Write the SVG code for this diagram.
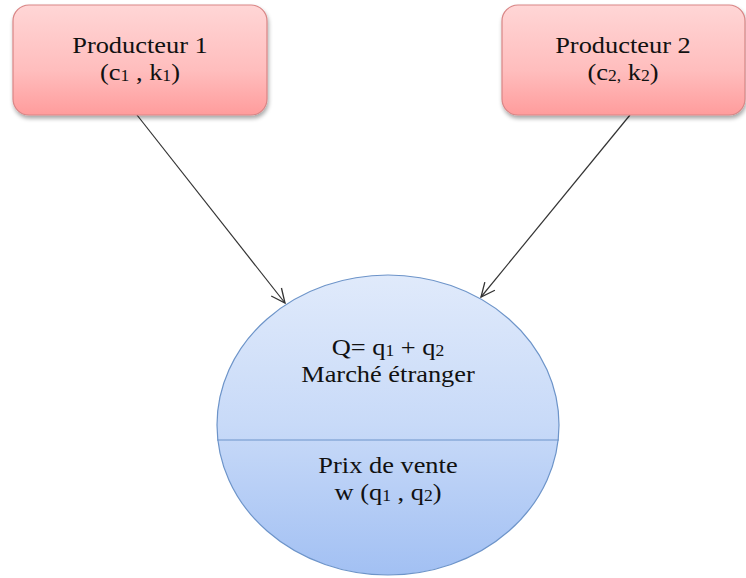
<svg xmlns="http://www.w3.org/2000/svg" width="746" height="578" viewBox="0 0 746 578">
<defs>
<linearGradient id="gPink" x1="0" y1="0" x2="0" y2="1">
<stop offset="0" stop-color="#FFD6D6"/>
<stop offset="0.6" stop-color="#FFBDBD"/>
<stop offset="1" stop-color="#FF9C9C"/>
</linearGradient>
<linearGradient id="gBlue" x1="0" y1="0" x2="0" y2="1">
<stop offset="0" stop-color="#E0EAFB"/>
<stop offset="0.5" stop-color="#C8DAF8"/>
<stop offset="1" stop-color="#A2C0F3"/>
</linearGradient>
<filter id="sh" x="-10%" y="-10%" width="120%" height="130%">
<feGaussianBlur in="SourceAlpha" stdDeviation="2"/>
<feOffset dx="1" dy="3" result="b"/>
<feComponentTransfer><feFuncA type="linear" slope="0.35"/></feComponentTransfer>
<feMerge><feMergeNode/><feMergeNode in="SourceGraphic"/></feMerge>
</filter>
<marker id="arr" viewBox="0 0 16 16" refX="15" refY="8" markerWidth="16" markerHeight="16" markerUnits="userSpaceOnUse" orient="auto">
<path d="M1,1.5 L15,8 L1,14.5" fill="none" stroke="#333" stroke-width="1.3"/>
</marker>
</defs>
<style>
.box{fill:url(#gPink);stroke:#D98585;stroke-width:1.2;filter:url(#sh)}
.ell{fill:url(#gBlue);stroke:#6D94C9;stroke-width:1.2}
.t{font-family:"Liberation Serif","DejaVu Serif","Times New Roman",serif;font-size:24px;fill:#111;text-anchor:middle}
.s{font-size:16px}
.con{stroke:#333;stroke-width:1.2;fill:none;marker-end:url(#arr)}
</style>
<g id="connectors">
<line class="con" x1="137" y1="115" x2="285" y2="303"/>
<line class="con" x1="630" y1="115" x2="481" y2="297"/>
</g>
<g id="producteur1">
<rect class="box" x="13" y="5" width="254" height="110" rx="16"/>
<text class="t" font-family="Liberation Serif, serif" x="140" y="53" transform="translate(140 0) scale(1.1 1) translate(-140 0)">Producteur 1</text>
<text class="t" font-family="Liberation Serif, serif" x="140" y="80" transform="translate(140 0) scale(1.1 1) translate(-140 0)">(c<tspan class="s" dy="1">1</tspan><tspan dy="-1"> , k</tspan><tspan class="s" dy="1">1</tspan><tspan dy="-1">)</tspan></text>
</g>
<g id="producteur2">
<rect class="box" x="502" y="5" width="243" height="110" rx="16"/>
<text class="t" font-family="Liberation Serif, serif" x="623" y="53" transform="translate(623 0) scale(1.1 1) translate(-623 0)">Producteur 2</text>
<text class="t" font-family="Liberation Serif, serif" x="623" y="80" transform="translate(623 0) scale(1.1 1) translate(-623 0)">(c<tspan class="s" dy="1">2,</tspan><tspan dy="-1"> k</tspan><tspan class="s" dy="1">2</tspan><tspan dy="-1">)</tspan></text>
</g>
<g id="marche">
<ellipse class="ell" cx="388" cy="425" rx="171" ry="150"/>
<line x1="217" y1="440" x2="559" y2="440" stroke="#6D94C9" stroke-width="1.2"/>
<text class="t" font-family="Liberation Serif, serif" x="388" y="355" transform="translate(388 0) scale(1.1 1) translate(-388 0)">Q= q<tspan class="s" dy="1">1</tspan><tspan dy="-1"> + q</tspan><tspan class="s" dy="1">2</tspan></text>
<text class="t" font-family="Liberation Serif, serif" x="388" y="382" transform="translate(388 0) scale(1.1 1) translate(-388 0)">Marché étranger</text>
<text class="t" font-family="Liberation Serif, serif" x="388" y="473" transform="translate(388 0) scale(1.1 1) translate(-388 0)">Prix de vente</text>
<text class="t" font-family="Liberation Serif, serif" x="388" y="500" transform="translate(388 0) scale(1.1 1) translate(-388 0)">w (q<tspan class="s" dy="1">1</tspan><tspan dy="-1"> , q</tspan><tspan class="s" dy="1">2</tspan><tspan dy="-1">)</tspan></text>
</g>
</svg>
